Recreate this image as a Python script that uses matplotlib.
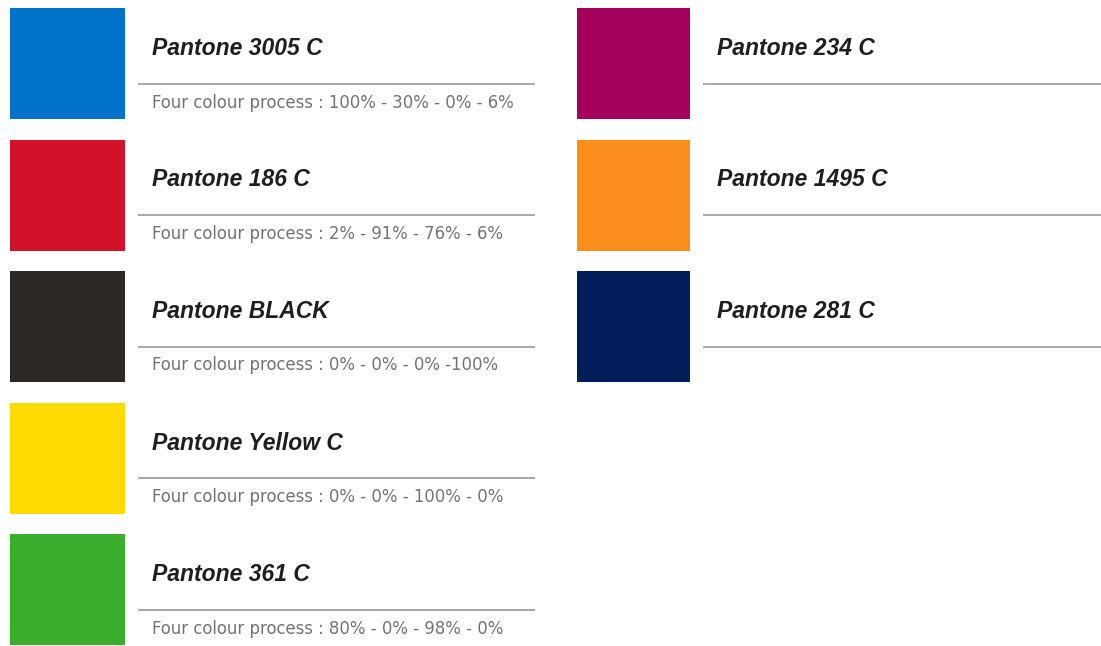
import matplotlib
matplotlib.use("Agg")
import matplotlib.pyplot as plt

# colour chart data
names = ["Pantone 3005 C", "Pantone 186 C", "Pantone BLACK", "Pantone Yellow C",
         "Pantone 361 C", "Pantone 234 C", "Pantone 1495 C", "Pantone 281 C"]
colours = ["#0072CA", "#D31128", "#2E2824", "#FDDB00",
           "#3BAD2C", "#A3005D", "#FB8E1D", "#011E5B"]
process = ["Four colour process : 100% - 30% - 0% - 6%",
           "Four colour process : 2% - 91% - 76% - 6%",
           "Four colour process : 0% - 0% - 0% -100%",
           "Four colour process : 0% - 0% - 100% - 0%",
           "Four colour process : 80% - 0% - 98% - 0%",
           "", "", ""]
column = [0, 0, 0, 0, 0, 1, 1, 1]
row = [0, 1, 2, 3, 4, 0, 1, 2]

# layout in pixels
W, H = 1101, 646
pitch = 131.5
sw_left = [10, 577]
sw_w = [115, 113]
sw_h = 111
text_x = [152, 717]
line_x = [(138, 535), (703, 1101)]

fig = plt.figure(figsize=(W / 100, H / 100), dpi=100)
ax = fig.add_axes([0, 0, 1, 1])
ax.set_xlim(0, W)
ax.set_ylim(H, 0)
ax.axis("off")

for i in range(len(names)):
    c = column[i]
    top = 8 + row[i] * pitch
    ax.bar(sw_left[c], sw_h, width=sw_w[c], bottom=top, align="edge",
           color=colours[i], edgecolor="none")
    ax.text(text_x[c], top + 47, names[i], family="Liberation Sans",
            fontsize=16.5, fontweight="bold", style="italic", color="#1e1e1e",
            va="baseline", ha="left")
    ax.hlines(top + 75.5, line_x[c][0], line_x[c][1], color="#9a9a9a", lw=1.2)
    if process[i]:
        ax.text(text_x[c], top + 99.5, process[i], family="DejaVu Sans",
                fontsize=11.9, color="#727272", va="baseline", ha="left")

fig.savefig("out.png", dpi=100)
